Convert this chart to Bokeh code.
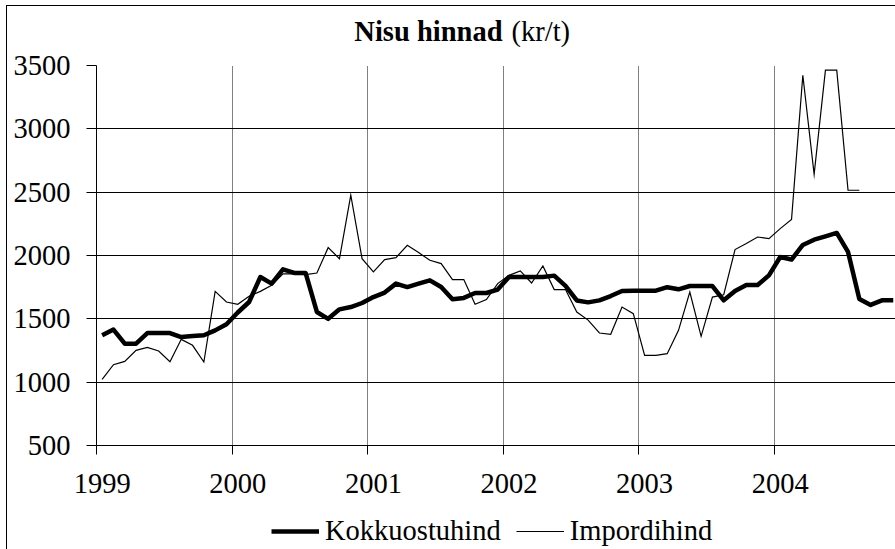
from bokeh.plotting import figure
from bokeh.layouts import column
from bokeh.models import Range1d, FixedTicker, Legend, LegendItem, Label
from bokeh.embed import file_html
from bokeh.resources import INLINE

# ---- data (monthly, Jan 1999 ...) ----
years = ["1999", "2000", "2001", "2002", "2003", "2004"]

kokkuostuhind = [
    1370, 1415, 1304, 1304, 1388, 1388, 1388, 1356, 1364, 1370, 1409, 1457,   # 1999
    1550, 1633, 1830, 1778, 1891, 1862, 1862, 1554, 1500, 1575, 1593, 1625,   # 2000
    1672, 1707, 1778, 1751, 1778, 1804, 1751, 1654, 1665, 1704, 1704, 1731,   # 2001
    1830, 1830, 1830, 1830, 1841, 1760, 1645, 1630, 1646, 1680, 1720, 1722,   # 2002
    1722, 1722, 1750, 1733, 1759, 1759, 1759, 1646, 1720, 1767, 1767, 1843,   # 2003
    1988, 1968, 2083, 2125, 2151, 2178, 2028, 1657, 1610, 1646, 1646,         # 2004
]

impordihind = [
    1022, 1138, 1164, 1251, 1275, 1246, 1162, 1338, 1291, 1159, 1717, 1633,   # 1999
    1615, 1678, 1717, 1765, 1855, 1855, 1849, 1862, 2062, 1975, 2476, 1975,   # 2000
    1870, 1968, 1983, 2081, 2023, 1962, 1936, 1810, 1810, 1615, 1652, 1778,   # 2001
    1843, 1878, 1783, 1917, 1731, 1731, 1554, 1490, 1388, 1378, 1593, 1541,   # 2002
    1212, 1212, 1225, 1409, 1712, 1362, 1672, 1690, 2047, 2094, 2146, 2133,   # 2003
    2212, 2284, 3423, 2641, 3463, 3463, 2515, 2515,                           # 2004
]

y_ticks = [500, 1000, 1500, 2000, 2500, 3000, 3500]

series_names = ["Kokkuostuhind", "Impordihind"]
title_bold = "Nisu hinnad"
title_unit = "(kr/t)"

# category positions (month centers)
x_k = [i + 0.5 for i in range(len(kokkuostuhind))]
x_i = [i + 0.5 for i in range(len(impordihind))]
year_starts = [12 * k for k in range(len(years))]
year_label_pos = [12 * k + 0.5 for k in range(len(years))]

FONT = "Liberation Serif"
BOLD_FONT = "'Liberation Serif', 'Times New Roman', 'DejaVu Serif', serif"
FS = "28.5px"
W = 888
LEFT = 89


def bare(height):
    # strip whose frame spans the same columns as the main chart's frame
    f = figure(width=W, height=height, output_backend="svg", toolbar_location=None,
               x_range=Range1d(LEFT, W), y_range=Range1d(0, height),
               x_axis_location=None, y_axis_location=None,
               min_border_left=LEFT, min_border_right=0, min_border_top=0,
               min_border_bottom=0)
    f.title.visible = False
    f.outline_line_color = None
    f.xgrid.visible = False
    f.ygrid.visible = False
    f.background_fill_color = "white"
    f.border_fill_color = "white"
    return f


# ---- title strip ----
top = bare(42)
top.add_layout(Label(x=495, y=17, text=title_bold, text_align="right",
                     text_baseline="alphabetic", text_font=BOLD_FONT, text_font_size=FS,
                     text_font_style="bold", text_color="black"))
top.add_layout(Label(x=504, y=17, text=title_unit, text_align="left",
                     text_baseline="alphabetic", text_font=FONT, text_font_size=FS,
                     text_color="black"))

# ---- main chart ----
p = figure(width=W, height=467, output_backend="svg", toolbar_location=None,
           x_range=Range1d(0, 70.7), y_range=Range1d(500, 3500),
           min_border_left=LEFT, min_border_right=0, min_border_top=17,
           min_border_bottom=70)
p.title.visible = False
p.outline_line_color = None
p.background_fill_color = "white"
p.border_fill_color = "white"

r1 = p.line(x_k, kokkuostuhind, line_width=4.5, line_color="black", line_join="round")
r2 = p.line(x_i, impordihind, line_width=1.2, line_color="black", line_join="miter")

p.xaxis.ticker = FixedTicker(ticks=year_label_pos, minor_ticks=year_starts)
p.xaxis.major_label_overrides = {t: y for t, y in zip(year_label_pos, years)}
p.xaxis.major_tick_line_color = None
p.xaxis.minor_tick_line_color = "black"
p.xaxis.minor_tick_out = 9
p.xaxis.minor_tick_in = 0
p.xaxis.axis_line_color = "black"
p.xaxis.major_label_text_font = FONT
p.xaxis.major_label_text_font_size = FS
p.xaxis.major_label_text_color = "black"
p.xaxis.major_label_standoff = 19

p.yaxis.ticker = FixedTicker(ticks=y_ticks)
p.yaxis.major_tick_out = 10
p.yaxis.major_tick_in = 0
p.yaxis.minor_tick_line_color = None
p.yaxis.major_tick_line_color = "black"
p.yaxis.axis_line_color = "black"
p.yaxis.major_label_text_font = FONT
p.yaxis.major_label_text_font_size = FS
p.yaxis.major_label_text_color = "black"
p.yaxis.major_label_standoff = 16

p.xgrid.ticker = FixedTicker(ticks=year_starts)
p.xgrid.grid_line_color = "black"
p.xgrid.grid_line_dash = "1 1"
p.xgrid.grid_line_width = 1
p.ygrid.grid_line_color = "black"
p.ygrid.grid_line_width = 1

# ---- legend strip (series drawn again, outside its visible range, so the
#      legend can show their line samples) ----
leg = bare(34)
d1 = leg.line(x_k, kokkuostuhind, line_width=4.5, line_color="black")
d2 = leg.line(x_i, impordihind, line_width=1.2, line_color="black")
legend = Legend(items=[LegendItem(label=series_names[0], renderers=[d1]),
                       LegendItem(label=series_names[1], renderers=[d2])],
                orientation="horizontal", location=(175, 2),
                glyph_width=48, glyph_height=20, label_standoff=6, spacing=15,
                padding=0, margin=0, border_line_color=None,
                background_fill_alpha=0,
                label_text_font=FONT, label_text_font_size=FS,
                label_text_color="black")
leg.add_layout(legend, "center")

layout = column(top, p, leg, spacing=0)
layout.styles = {"margin-left": "6px", "margin-top": "5px",
                 "border-left": "1px solid black", "border-top": "1px solid black"}

open("out.html", "w").write(file_html(layout, INLINE))
